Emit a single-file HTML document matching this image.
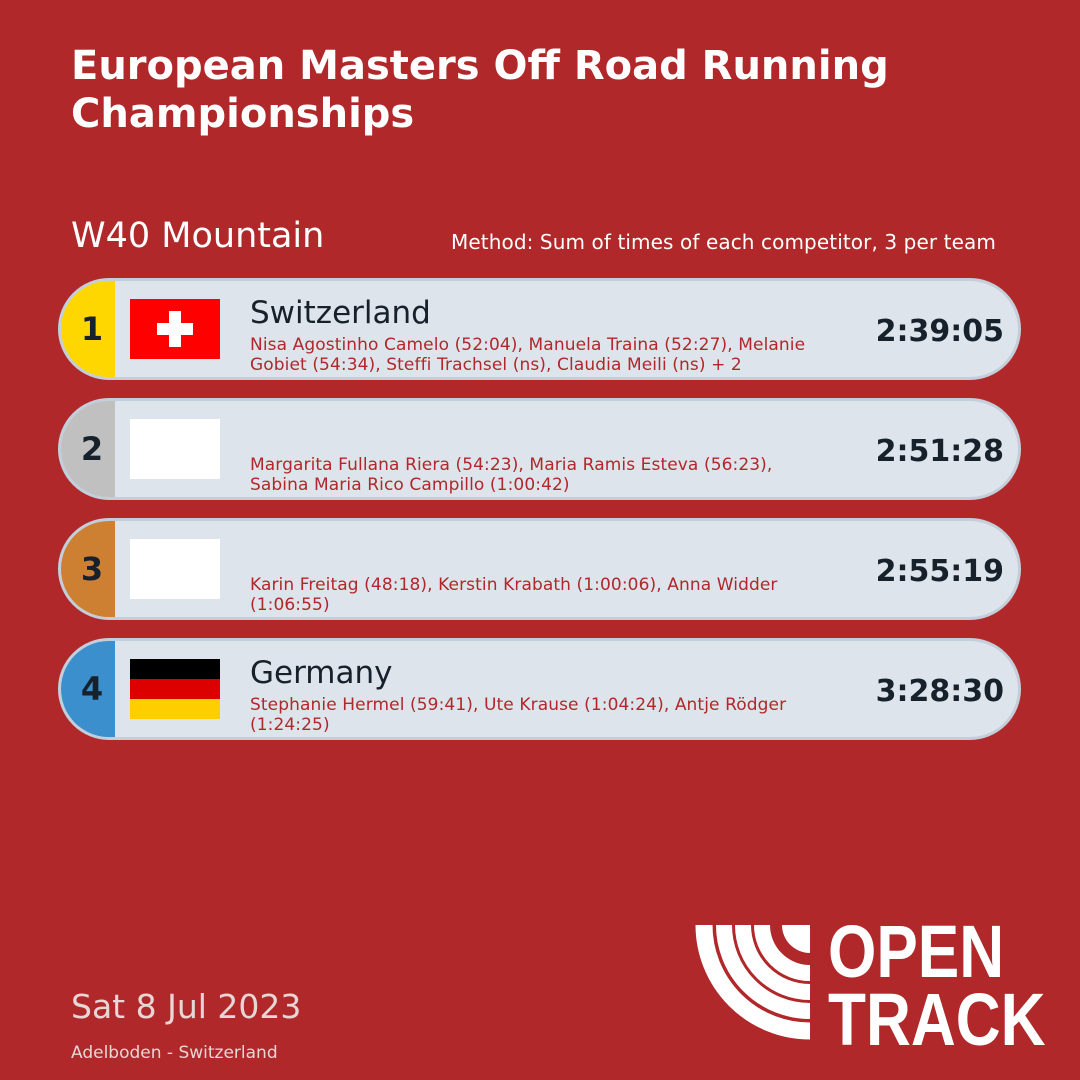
<!DOCTYPE html>
<html><head><meta charset="utf-8"><style>
*{margin:0;padding:0;box-sizing:border-box}
body{width:1080px;height:1080px;background:#b0282a;font-family:"DejaVu Sans","Liberation Sans",sans-serif;position:relative;overflow:hidden;color:#fff}
.t{position:absolute;white-space:nowrap}
.card{position:absolute;left:58px;width:963px;height:102px;border:3px solid #c3cedb;border-radius:51px;background:#dde4eb;overflow:hidden}
.badge{position:absolute;left:0;top:0;width:54px;height:100%;font-weight:bold;font-size:32px;color:#17212b;display:flex;align-items:center;justify-content:center;padding-left:8px}
.flag{position:absolute;left:69px;top:18px;width:90px;height:60px;background:#fff}
.name{position:absolute;left:189px;top:14px;font-size:31px;color:#17212b}
.ath{position:absolute;left:189px;top:54px;font-size:17px;line-height:20px;color:#b0282a;white-space:nowrap;letter-spacing:0.1px}
.time{position:absolute;right:14px;top:33px;font-size:30px;font-weight:bold;color:#17212b}
</style></head><body>
<div class="t" style="left:71px;top:42px;font-size:40px;font-weight:bold;line-height:48px">European Masters Off Road Running<br>Championships</div>
<div class="t" style="left:71px;top:216px;font-size:35px">W40 Mountain</div>
<div class="t" style="left:451px;top:230px;font-size:20px;letter-spacing:0.1px">Method: Sum of times of each competitor, 3 per team</div>

<div class="card" style="top:278px"><div class="badge" style="background:#ffd700">1</div>
<div class="flag" style="background:#f00"><div style="position:absolute;left:39px;top:12px;width:12px;height:36px;background:#fff"></div><div style="position:absolute;left:27px;top:24px;width:36px;height:12px;background:#fff"></div></div>
<div class="name">Switzerland</div><div class="ath">Nisa Agostinho Camelo (52:04), Manuela Traina (52:27), Melanie<br>Gobiet (54:34), Steffi Trachsel (ns), Claudia Meili (ns) + 2</div><div class="time">2:39:05</div></div>

<div class="card" style="top:398px"><div class="badge" style="background:#c0c0c0">2</div><div class="flag"></div>
<div class="ath">Margarita Fullana Riera (54:23), Maria Ramis Esteva (56:23),<br>Sabina Maria Rico Campillo (1:00:42)</div><div class="time">2:51:28</div></div>

<div class="card" style="top:518px"><div class="badge" style="background:#cd7f32">3</div><div class="flag"></div>
<div class="ath">Karin Freitag (48:18), Kerstin Krabath (1:00:06), Anna Widder<br>(1:06:55)</div><div class="time">2:55:19</div></div>

<div class="card" style="top:638px"><div class="badge" style="background:#3a8fcc">4</div>
<div class="flag" style="background:linear-gradient(#000 0 33.3%,#d00 33.3% 66.6%,#ffce00 66.6%)"></div>
<div class="name">Germany</div><div class="ath">Stephanie Hermel (59:41), Ute Krause (1:04:24), Antje Rödger<br>(1:24:25)</div><div class="time">3:28:30</div></div>

<div class="t" style="left:71px;top:987px;font-size:33px;color:#e6d6d6">Sat 8 Jul 2023</div>
<div class="t" style="left:71px;top:1043px;font-size:17px;color:#e6d6d6">Adelboden - Switzerland</div>

<svg class="t" style="left:690px;top:920px" width="130" height="130" viewBox="690 920 130 130">
<g fill="none" stroke="#fff">
<circle cx="810" cy="925" r="106" stroke-width="17"/>
<circle cx="810" cy="925" r="86" stroke-width="16"/>
<circle cx="810" cy="925" r="67" stroke-width="16"/>
<circle cx="810" cy="925" r="48" stroke-width="16"/>
</g>
<circle cx="810" cy="925" r="28" fill="#fff"/>
<rect x="810" y="880" width="20" height="200" fill="#b0282a"/>
<rect x="680" y="880" width="150" height="45" fill="#b0282a"/>
</svg>
<div class="t" style="left:828px;top:918px;font-family:'Liberation Sans',sans-serif;font-size:74px;font-weight:bold;line-height:68px;transform:scaleX(0.84);transform-origin:0 0">OPEN<br>TRACK</div>
</body></html>
